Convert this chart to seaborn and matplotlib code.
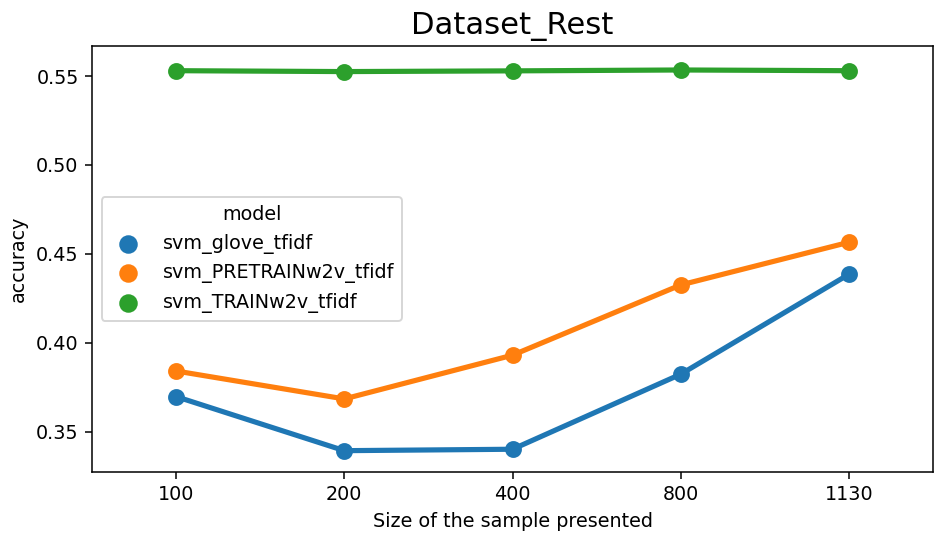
import matplotlib
matplotlib.use("Agg")
import matplotlib.pyplot as plt
import pandas as pd
import seaborn as sns

# sample sizes (x categories)
sizes = ["100", "200", "400", "800", "1130"]

# accuracy per model
svm_glove_tfidf = [0.3697, 0.3393, 0.3401, 0.3823, 0.4385]
svm_pretrain_w2v_tfidf = [0.3841, 0.3684, 0.3930, 0.4325, 0.4565]
svm_train_w2v_tfidf = [0.5530, 0.5525, 0.5529, 0.5534, 0.5530]

model_names = ["svm_glove_tfidf", "svm_PRETRAINw2v_tfidf", "svm_TRAINw2v_tfidf"]
series = [svm_glove_tfidf, svm_pretrain_w2v_tfidf, svm_train_w2v_tfidf]

rows = []
for name, vals in zip(model_names, series):
    for s, v in zip(sizes, vals):
        rows.append({"size": s, "accuracy": v, "model": name})
df = pd.DataFrame(rows)

dpi = 138
fig, ax = plt.subplots(figsize=(936 / dpi, 534 / dpi), dpi=dpi)
fig.subplots_adjust(left=0.0983, right=0.9968, top=0.9139, bottom=0.1161)

palette = sns.color_palette("tab10", 3)
sns.pointplot(data=df, x="size", y="accuracy", hue="model", order=sizes,
              hue_order=model_names, palette=palette, ax=ax, legend=False)

# marker-only legend handles (old seaborn pointplot look)
handles = [ax.scatter([], [], color=c, s=75) for c in palette]
ax.legend(handles, model_names, title="model", loc="center left")

ax.set_xlim(-0.5, len(sizes) - 0.5)
ax.set_ylim(0.3273, 0.5669)
ax.set_title("Dataset_Rest", fontsize=16)
ax.set_xlabel("Size of the sample presented")
ax.set_ylabel("accuracy")

fig.savefig("out.png", dpi=dpi)
